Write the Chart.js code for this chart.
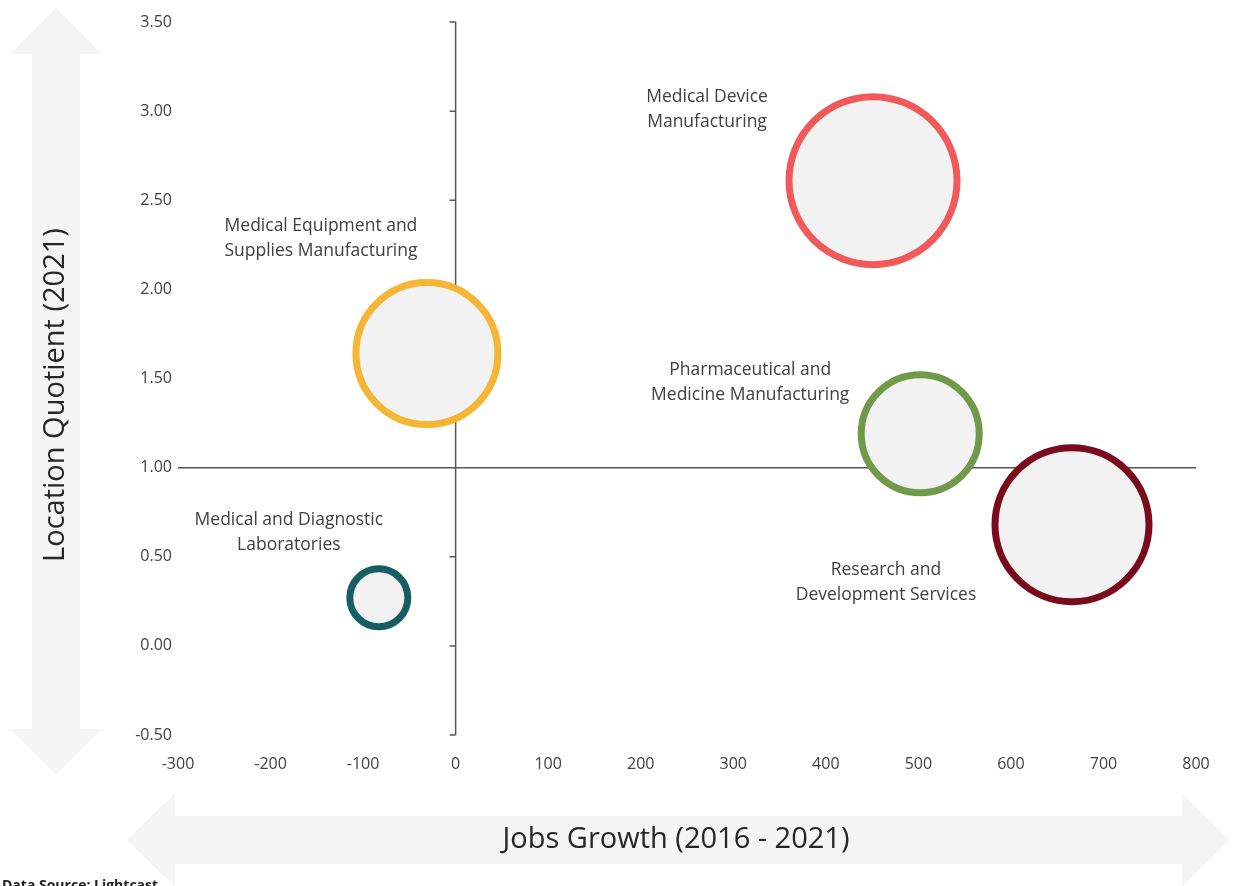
<!DOCTYPE html>
<html>
<head>
<meta charset="utf-8">
<title>Jobs Growth vs Location Quotient</title>
<script src="https://cdn.jsdelivr.net/npm/chart.js@4.4.1/dist/chart.umd.min.js"></script>
<style>
  html, body { margin: 0; padding: 0; background: #fff; }
  #wrap { width: 1234px; height: 886px; position: relative; }
</style>
</head>
<body>
<div id="wrap"><canvas id="chart" width="1234" height="886"></canvas></div>
<script>
const industries = [
  ['Medical Device', 'Manufacturing'],
  ['Medical Equipment and', 'Supplies Manufacturing'],
  ['Pharmaceutical and', 'Medicine Manufacturing'],
  ['Research and', 'Development Services'],
  ['Medical and Diagnostic', 'Laboratories'],
];
const jobsGrowth = [451, -31, 502, 666, -83];
const locationQuotient = [2.61, 1.64, 1.19, 0.68, 0.27];
const bubbleSize = [84, 71, 59, 77, 29];

const xTicks = { min: -300, max: 800, step: 100 };
const yTicks = { min: -0.5, max: 3.5, step: 0.5 };

const colors = ['#f05a5b', '#f5b535', '#71994a', '#7a0a1e', '#165e62'];
// label block (centre x, first line) relative to bubble centre, px
const labelOffsets = [[-166, -84], [-106, -128], [-170, -64], [-186, 45], [-90, -78]];

const FONT = '"Open Sans", "Noto Sans", sans-serif';
const ARROW = '#f5f5f5';

function drawArrowV(ctx, cx, top, bottom, shaftW, headW, headH) {
  ctx.beginPath();
  ctx.moveTo(cx, top);
  ctx.lineTo(cx + headW / 2, top + headH);
  ctx.lineTo(cx + shaftW / 2, top + headH);
  ctx.lineTo(cx + shaftW / 2, bottom - headH);
  ctx.lineTo(cx + headW / 2, bottom - headH);
  ctx.lineTo(cx, bottom);
  ctx.lineTo(cx - headW / 2, bottom - headH);
  ctx.lineTo(cx - shaftW / 2, bottom - headH);
  ctx.lineTo(cx - shaftW / 2, top + headH);
  ctx.lineTo(cx - headW / 2, top + headH);
  ctx.closePath();
  ctx.fill();
}

function drawArrowH(ctx, cy, left, right, shaftW, headW, headH) {
  ctx.beginPath();
  ctx.moveTo(left, cy);
  ctx.lineTo(left + headH, cy - headW / 2);
  ctx.lineTo(left + headH, cy - shaftW / 2);
  ctx.lineTo(right - headH, cy - shaftW / 2);
  ctx.lineTo(right - headH, cy - headW / 2);
  ctx.lineTo(right, cy);
  ctx.lineTo(right - headH, cy + headW / 2);
  ctx.lineTo(right - headH, cy + shaftW / 2);
  ctx.lineTo(left + headH, cy + shaftW / 2);
  ctx.lineTo(left + headH, cy + headW / 2);
  ctx.closePath();
  ctx.fill();
}

const decorations = {
  id: 'decorations',
  beforeDraw(chart) {
    const { ctx } = chart;
    ctx.save();
    ctx.fillStyle = ARROW;
    drawArrowV(ctx, 56, 8, 775, 48, 92, 46);
    drawArrowH(ctx, 840, 127, 1230, 48, 94, 48);

    ctx.fillStyle = '#262626';
    ctx.font = '29px ' + FONT;
    ctx.textAlign = 'center';
    ctx.textBaseline = 'middle';
    ctx.fillText('Jobs Growth (2016 - 2021)', 676, 840);
    ctx.save();
    ctx.translate(56, 395);
    ctx.rotate(-Math.PI / 2);
    ctx.fillText('Location Quotient (2021)', 0, 0);
    ctx.restore();

    ctx.font = 'bold 14px ' + FONT;
    ctx.textAlign = 'left';
    ctx.textBaseline = 'top';
    ctx.fillStyle = '#222';
    ctx.fillText('Data Source: Lightcast', 2, 879);
    ctx.restore();
  },
  beforeDatasetsDraw(chart) {
    const { ctx, chartArea, scales } = chart;
    const x0 = scales.x.getPixelForValue(0);
    const y1 = scales.y.getPixelForValue(1);
    ctx.save();
    ctx.strokeStyle = '#555';
    ctx.lineWidth = 1.5;
    ctx.beginPath();
    ctx.moveTo(chartArea.left, y1);
    ctx.lineTo(chartArea.right, y1);
    ctx.moveTo(x0, scales.y.getPixelForValue(yTicks.max));
    ctx.lineTo(x0, scales.y.getPixelForValue(yTicks.min));
    for (const t of scales.y.ticks) {
      const py = scales.y.getPixelForValue(t.value);
      ctx.moveTo(x0 - 6, py);
      ctx.lineTo(x0, py);
    }
    ctx.stroke();
    ctx.restore();
  },
  afterDatasetsDraw(chart) {
    const { ctx } = chart;
    const meta = chart.getDatasetMeta(0);
    ctx.save();
    ctx.fillStyle = '#404040';
    ctx.font = '17.5px ' + FONT;
    ctx.textAlign = 'center';
    ctx.textBaseline = 'middle';
    meta.data.forEach((pt, i) => {
      const [dx, dy] = labelOffsets[i];
      industries[i].forEach((line, j) => {
        ctx.fillText(line, pt.x + dx, pt.y + dy + j * 25);
      });
    });
    ctx.restore();
  },
};

const points = jobsGrowth.map((x, i) => ({ x, y: locationQuotient[i], r: bubbleSize[i] }));

new Chart(document.getElementById('chart'), {
  type: 'bubble',
  data: {
    labels: industries.map((l) => l.join(' ')),
    datasets: [{
      data: points,
      backgroundColor: '#f2f2f2',
      borderColor: colors,
      borderWidth: 7,
      hoverBorderWidth: 7,
      clip: false,
    }],
  },
  options: {
    responsive: false,
    animation: false,
    layout: { autoPadding: false, padding: { left: 118, right: 38, top: 22, bottom: 101 } },
    plugins: {
      legend: { display: false },
      tooltip: { enabled: false },
    },
    scales: {
      x: {
        type: 'linear',
        min: xTicks.min,
        max: xTicks.max,
        grid: { display: false, drawTicks: false },
        border: { display: false },
        ticks: {
          stepSize: xTicks.step,
          padding: 20,
          color: '#404040',
          font: { family: FONT, size: 16 },
          maxRotation: 0,
        },
        afterFit(scale) { scale.height = 50; },
      },
      y: {
        type: 'linear',
        min: yTicks.min,
        max: yTicks.max,
        grid: { display: false, drawTicks: false },
        border: { display: false },
        ticks: {
          stepSize: yTicks.step,
          padding: 6,
          color: '#404040',
          font: { family: FONT, size: 16 },
          callback: (v) => v.toFixed(2),
        },
        afterFit(scale) { scale.width = 60; },
      },
    },
  },
  plugins: [decorations],
});
</script>
</body>
</html>
